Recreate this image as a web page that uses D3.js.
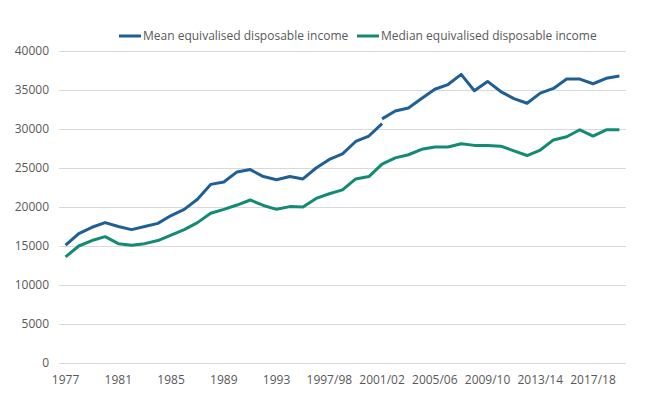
<!DOCTYPE html>
<html>
<head>
<meta charset="utf-8">
<script src="https://cdn.jsdelivr.net/npm/d3@7"></script>
<style>
  body { margin: 0; background: #fff; }
  svg { display: block; font-family: "Open Sans", sans-serif; }
</style>
</head>
<body>
<div id="chart"></div>
<script>
// Household income, 1977 to 2019/20
const years = ["1977", "1978", "1979", "1980", "1981", "1982", "1983", "1984", "1985", "1986",
  "1987", "1988", "1989", "1990", "1991", "1992", "1993", "1994/95", "1995/96", "1996/97",
  "1997/98", "1998/99", "1999/00", "2000/01", "2001/02", "2002/03", "2003/04", "2004/05",
  "2005/06", "2006/07", "2007/08", "2008/09", "2009/10", "2010/11", "2011/12", "2012/13",
  "2013/14", "2014/15", "2015/16", "2016/17", "2017/18", "2018/19", "2019/20"];

// mean series has a break at 2001/02 (old series ends, new one starts)
const meanOld = [15100, 16600, 17400, 18000, 17500, 17100, 17500, 17900, 18900, 19700,
  21000, 22900, 23200, 24500, 24800, 23900, 23500, 23900, 23600, 25000,
  26100, 26800, 28400, 29100, 30700];
const meanNew = [31300, 32300, 32700, 33900, 35100, 35700, 37000, 34900, 36100, 34800,
  33900, 33300, 34600, 35200, 36400, 36400, 35800, 36500, 36800];
const median = [13600, 15000, 15700, 16200, 15300, 15100, 15300, 15700, 16400, 17100,
  18000, 19200, 19700, 20250, 20900, 20200, 19700, 20050, 20000, 21100,
  21700, 22200, 23600, 23900, 25500, 26300, 26700, 27400, 27700, 27700,
  28100, 27900, 27900, 27800, 27200, 26600, 27300, 28600, 29000, 29900,
  29100, 29900, 29900];

const yTicks = [0, 5000, 10000, 15000, 20000, 25000, 30000, 35000, 40000];
const xLabelEvery = 4;

const seriesNames = ["Mean equivalised disposable income", "Median equivalised disposable income"];
const colors = ["#1f5f95", "#138a73"];

const W = 657, H = 409;
const margin = { top: 51, right: 31, bottom: 46, left: 59 };
const width = W - margin.left - margin.right,
  height = H - margin.top - margin.bottom;

const svg = d3.select("#chart").append("svg")
  .attr("width", W).attr("height", H);

const g = svg.append("g")
  .attr("transform", "translate(" + margin.left + "," + margin.top + ")");

const x = d3.scaleBand().domain(years).range([0, width]);
const y = d3.scaleLinear().domain([0, 40000]).range([height, 0]);

// gridlines
g.append("g").selectAll("line")
  .data(yTicks).enter().append("line")
  .attr("x1", 0).attr("x2", width)
  .attr("y1", d => Math.round(y(d)) + 0.5).attr("y2", d => Math.round(y(d)) + 0.5)
  .attr("stroke", "#d9d9d9").attr("stroke-width", 1);

// y axis labels
const yAxis = d3.axisLeft(y).tickValues(yTicks).tickFormat(d3.format("d")).tickSize(0).tickPadding(10);
g.append("g").call(yAxis)
  .call(a => a.select(".domain").remove())
  .selectAll("text")
  .attr("fill", "#595959").style("font-size", "12px").style("font-family", "Open Sans, sans-serif");

// x axis labels
const xAxis = d3.axisBottom(x)
  .tickValues(years.filter((d, i) => i % xLabelEvery === 0))
  .tickSize(0).tickPadding(12);
g.append("g").attr("transform", "translate(0," + height + ")").call(xAxis)
  .call(a => a.select(".domain").remove())
  .selectAll("text")
  .attr("fill", "#595959").style("font-size", "12px").style("font-family", "Open Sans, sans-serif");

const cx = d => x(d) + x.bandwidth() / 2;
const line = d3.line().x(d => cx(d.year)).y(d => y(d.value));

const meanOldPts = meanOld.map((v, i) => ({ year: years[i], value: v }));
const meanNewPts = meanNew.map((v, i) => ({ year: years[years.length - meanNew.length + i], value: v }));
const medianPts = median.map((v, i) => ({ year: years[i], value: v }));

[[meanOldPts, 0], [meanNewPts, 0], [medianPts, 1]].forEach(([pts, c]) => {
  g.append("path")
    .datum(pts)
    .attr("d", line)
    .attr("fill", "none")
    .attr("stroke", colors[c])
    .attr("stroke-width", 3)
    .attr("stroke-linejoin", "round");
});

// legend
const legendX = [119, 357];
const legend = svg.append("g");
seriesNames.forEach((name, i) => {
  legend.append("line")
    .attr("x1", legendX[i]).attr("x2", legendX[i] + 22)
    .attr("y1", 36).attr("y2", 36)
    .attr("stroke", colors[i]).attr("stroke-width", 3);
  legend.append("text")
    .attr("x", legendX[i] + 24).attr("y", 36)
    .attr("dy", "0.35em")
    .attr("fill", "#595959")
    .style("font-size", "12px")
    .text(name);
});
</script>
</body>
</html>
